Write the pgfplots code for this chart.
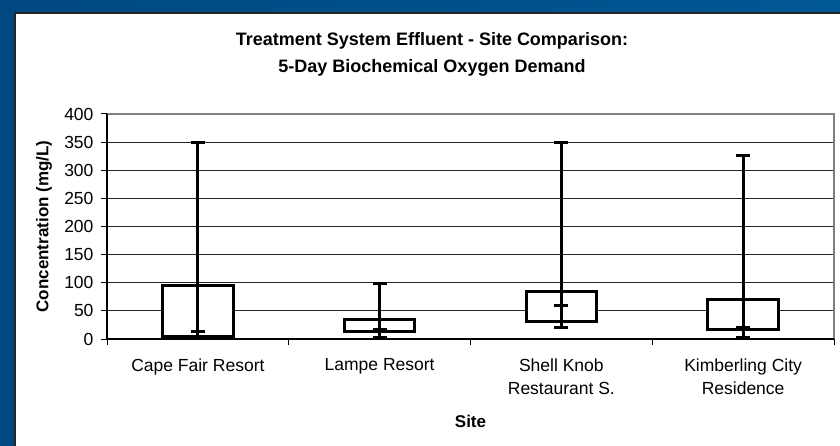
\documentclass[border=0pt]{standalone}
\usepackage{fontspec}
\setmainfont{Liberation Sans}
\usepackage{pgfplots}
\pgfplotsset{compat=1.18}
\usepackage{pgfplotstable}
\usetikzlibrary{plotmarks}
\definecolor{bgblue}{RGB}{0,88,148}
\definecolor{bgblue2}{RGB}{0,72,128}
\definecolor{framegray}{RGB}{128,128,128}

\pgfplotstableread{
x med em ep
0 13 11 337
1 17 14 81
2 59 39 291
3 20 17 306
}\whisk

\begin{document}
\begin{tikzpicture}[x=1pt,y=1pt]
\useasboundingbox (0,0) rectangle (840,-446);
\shade[left color=bgblue2, right color=bgblue] (0,0) rectangle (840,-446);
\fill[white] (15,-13) rectangle (840,-446);
\draw[black!85, line width=1.5pt] (15,-446) -- (15,-13) -- (840,-13);
\node[font=\fontsize{18}{27}\selectfont\bfseries, align=center] at (432,-54.5)
  {Treatment System Effluent - Site Comparison:\\5-Day Biochemical Oxygen Demand};
\begin{axis}[
  at={(107pt,-339pt)}, anchor=south west,
  scale only axis, width=727pt, height=225pt,
  xmin=-0.5, xmax=3.5, ymin=0, ymax=400,
  ytick={0,50,...,400},
  xtick={-0.5,0.5,1.5,2.5,3.5},
  xticklabels={},
  extra x ticks={0,1,2,3},
  extra x tick labels={Cape Fair Resort, Lampe Resort, {Shell Knob\\Restaurant S.}, {Kimberling City\\Residence}},
  extra x tick style={grid=none, major tick length=0pt,
    xticklabel style={align=center, font=\fontsize{17.5}{23}\selectfont, anchor=north, yshift=-16pt}},
  yticklabel style={font=\fontsize{17.5}{20}\selectfont, xshift=-4pt},
  tick pos=left,
  tick align=outside,
  major tick length=6pt,
  tick style={draw=black, line width=1pt},
  ymajorgrids,
  grid style={black!85, line width=1pt},
  axis line style={draw=none},
  /pgf/number format/assume math mode=true,
  ylabel={\bfseries Concentration (mg/L)},
  ylabel style={font=\fontsize{17}{20}\selectfont, at={(axis description cs:-0.0867,0.5)}, anchor=center},
  xlabel={\bfseries Site},
  xlabel style={font=\fontsize{17}{20}\selectfont, at={(axis description cs:0.5,-0.366)}, anchor=center},
  clip=false,
]
\addplot[fill=white, draw=black, line width=2.8pt, line join=miter] coordinates {(-0.194,4) (0.194,4) (0.194,95) (-0.194,95)} --cycle;
\addplot[fill=white, draw=black, line width=2.8pt, line join=miter] coordinates {(0.806,14) (1.194,14) (1.194,34) (0.806,34)} --cycle;
\addplot[fill=white, draw=black, line width=2.8pt, line join=miter] coordinates {(1.806,31) (2.194,31) (2.194,85) (1.806,85)} --cycle;
\addplot[fill=white, draw=black, line width=2.8pt, line join=miter] coordinates {(2.806,16.5) (3.194,16.5) (3.194,70.5) (2.806,70.5)} --cycle;
\addplot[only marks, mark=-, mark size=7pt, mark options={line width=2.8pt, draw=black},
  error bars/.cd, y dir=both, y explicit,
  error bar style={line width=2.8pt, black},
  error mark=|,
  error mark options={line width=2.8pt, mark size=7pt, draw=black}]
  table[x=x, y=med, y error plus=ep, y error minus=em] {\whisk};
\draw[framegray, line width=1.5pt] (rel axis cs:0,1) -- (rel axis cs:1,1) -- (rel axis cs:1,0);
\draw[black, line width=1.3pt] (rel axis cs:0,1) -- (rel axis cs:0,0) -- (rel axis cs:1,0);
\end{axis}
\end{tikzpicture}
\end{document}
